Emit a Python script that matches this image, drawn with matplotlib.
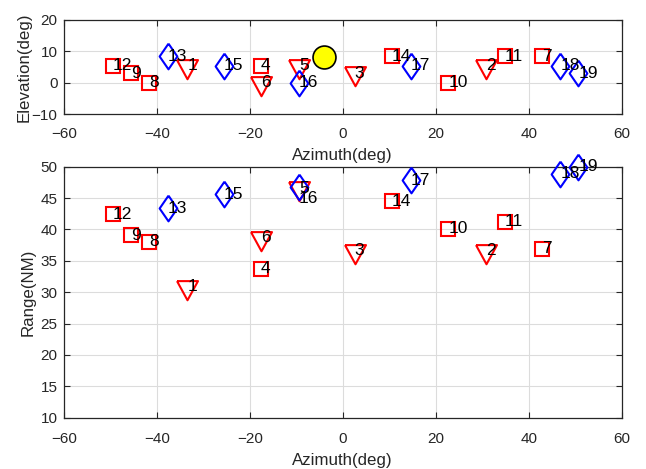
import matplotlib
matplotlib.use("Agg")
import matplotlib.pyplot as plt
import numpy as np

plt.rcParams['font.family'] = ['Liberation Sans', 'DejaVu Sans']

# Satellite data
sat_ids   = [1, 2, 3, 4, 5, 6, 7, 8, 9, 10, 11, 12, 13, 14, 15, 16, 17, 18, 19]
azimuth   = [-33.4, 30.8, 2.6, -17.6, -9.4, -17.6, 42.8, -41.6, -45.6, 22.7,
             34.8, -49.5, -37.6, 10.6, -25.6, -9.4, 14.6, 46.8, 50.7]
elevation = [5.5, 5.4, 3.0, 5.5, 5.5, 0.0, 8.5, 0.0, 3.0, 0.0,
             8.5, 5.5, 8.4, 8.5, 5.5, 0.0, 5.5, 5.5, 3.1]
range_nm  = [30.9, 36.6, 36.6, 33.7, 46.6, 38.7, 36.9, 38.0, 39.1, 40.1,
             41.2, 42.4, 43.4, 44.5, 45.6, 46.7, 47.8, 48.9, 50.0]
sat_type  = ['tri', 'tri', 'tri', 'sq', 'tri', 'tri', 'sq', 'sq', 'sq', 'sq',
             'sq', 'sq', 'dia', 'sq', 'dia', 'dia', 'dia', 'dia', 'dia']
# label y-nudge (in range units) for the overlapping label in the range plot
range_label_nudge = {16: -1.7}

sun_az = [-4.0]
sun_el = [8.3]

xticks = [-60, -40, -20, 0, 20, 40, 60]
el_ticks = [-10, 0, 10, 20]
rng_ticks = [10, 15, 20, 25, 30, 35, 40, 45, 50]

# marker shapes (triangle centred at centroid, like MATLAB)
H = 2 * 21 / 23
tri_marker = [(-1, H / 3), (1, H / 3), (0, -2 * H / 3), (-1, H / 3)]
dia_marker = [(0, 1), (0.69, 0), (0, -1), (-0.69, 0), (0, 1)]
styles = {
    'tri': dict(marker=tri_marker, ms=18.4, color='#ff0000'),
    'sq':  dict(marker='s', ms=10.3, color='#ff0000'),
    'dia': dict(marker=dia_marker, ms=18.5, color='#0000ff'),
}

fig = plt.figure(figsize=(6.46, 4.69), dpi=100)
ax1 = fig.add_axes([0.0986, 0.7563, 0.8638, 0.2011])
ax2 = fig.add_axes([0.0986, 0.1094, 0.8638, 0.5352])

axc = '#262626'

def style_axes(ax, yticks, ylim, ylabel, xpad, ylab_x):
    ax.set_xlim(-60, 60)
    ax.set_ylim(*ylim)
    ax.set_xticks(xticks)
    ax.set_yticks(yticks)
    ax.grid(True, color='#dcdcdc', linewidth=0.8)
    ax.set_axisbelow(True)
    for s in ax.spines.values():
        s.set_color(axc)
        s.set_linewidth(0.9)
    ax.tick_params(direction='in', length=4, width=0.8, colors=axc,
                   labelsize=11, top=True, right=True, labelcolor=axc)
    ax.tick_params(axis='x', pad=xpad)
    ax.tick_params(axis='y', pad=4.5)
    ax.set_xlabel('Azimuth(deg)', fontsize=12.2, color=axc, labelpad=5)
    ax.set_ylabel(ylabel, fontsize=12.2, color=axc)
    ax.yaxis.set_label_coords(ylab_x, 0.5)

style_axes(ax1, el_ticks, (-10, 20), 'Elevation(deg)', 9.0, -0.0573)
style_axes(ax2, rng_ticks, (10, 50), 'Range(NM)', 10.0, -0.051)

for ax, yvals, nudge in ((ax1, elevation, {}), (ax2, range_nm, range_label_nudge)):
    for sid, az, yv, t in zip(sat_ids, azimuth, yvals, sat_type):
        st = styles[t]
        ax.plot([az], [yv], linestyle='none', marker=st['marker'], markersize=st['ms'],
                markerfacecolor='none', markeredgecolor=st['color'],
                markeredgewidth=1.5, clip_on=False, zorder=3)
        ax.text(az, yv + nudge.get(sid, 0.0), str(sid), ha='left', va='center',
                fontsize=12.5, color='black', zorder=4, clip_on=False)

ax1.plot(sun_az, sun_el, linestyle='none', marker='o', markersize=16.5,
         markerfacecolor='#ffff00', markeredgecolor='black', markeredgewidth=1.2,
         zorder=5, clip_on=False)

fig.savefig('out.png', dpi=100)
